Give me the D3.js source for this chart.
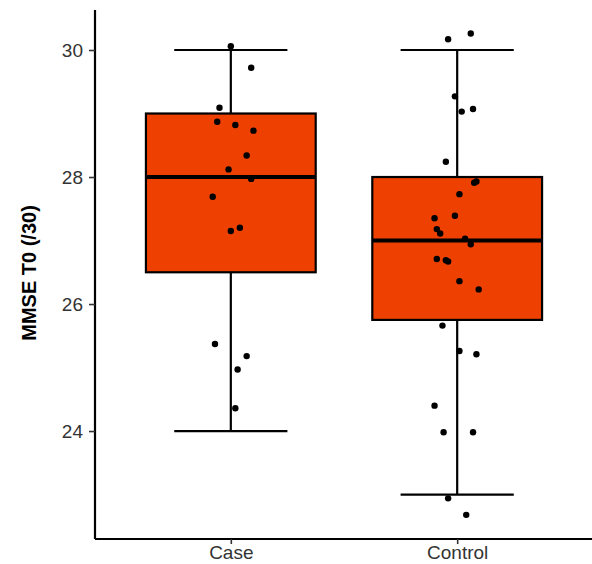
<!DOCTYPE html>
<html>
<head>
<meta charset="utf-8">
<script src="https://cdn.jsdelivr.net/npm/d3@7"></script>
<style>
  html, body { margin: 0; padding: 0; background: #fff; }
  svg { display: block; }
</style>
</head>
<body>
<svg id="chart" width="592" height="564"></svg>
<script>
// ---- data ----
const categories = ["Case", "Control"];
const yTicks = [24, 26, 28, 30];
const yLabel = "MMSE T0 (/30)";

// box statistics: [lowerWhisker, Q1, median, Q3, upperWhisker]
const caseStats = [24, 26.5, 28, 29, 30];
const controlStats = [23, 25.75, 27, 28, 30];

// jittered observations (value, horizontal jitter in category units)
const caseValues = [30.06, 29.72, 29.09, 28.87, 28.82, 28.73, 28.34, 28.12, 27.97, 27.69, 27.15, 27.20, 25.37, 25.18, 24.97, 24.36];
const caseJitter = [0.00, 0.09, -0.05, -0.06, 0.02, 0.10, 0.07, -0.01, 0.09, -0.08, 0.00, 0.04, -0.07, 0.07, 0.03, 0.02];
const controlValues = [30.17, 30.26, 29.27, 29.03, 29.07, 28.24, 27.91, 27.93, 27.73, 27.39, 27.35, 27.18, 27.11, 27.03, 26.94, 26.71, 26.69, 26.67, 26.36, 26.23, 25.66, 25.26, 25.21, 24.40, 23.98, 23.98, 22.94, 22.68];
const controlJitter = [-0.04, 0.06, -0.01, 0.02, 0.07, -0.05, 0.075, 0.085, 0.01, -0.01, -0.10, -0.09, -0.075, 0.035, 0.06, -0.09, -0.05, -0.04, 0.01, 0.095, -0.065, 0.01, 0.085, -0.10, -0.06, 0.07, -0.04, 0.04];

const statsList = [caseStats, controlStats];
const valuesList = [caseValues, controlValues];
const jitterList = [caseJitter, controlJitter];

// ---- layout ----
const svg = d3.select("#chart");
const mLeft = 95, mRight = 593, mTop = 10, mBottom = 539;
const fontFam = "'Liberation Sans', Arial, Helvetica, sans-serif";

const y = d3.scaleLinear().domain([22.30, 30.63]).range([mBottom, mTop]);
const x = d3.scalePoint().domain(categories).range([mLeft, mRight]).padding(0.6);
const step = x.step();
const boxW = 0.75 * step;
const whiskW = 0.5 * step;

const g = svg.append("g");

categories.forEach((c, i) => {
  const s = statsList[i];
  const cx = x(c);
  const bg = g.append("g");
  bg.append("line").attr("x1", cx).attr("x2", cx).attr("y1", y(s[3])).attr("y2", y(s[4]))
    .attr("stroke", "#000").attr("stroke-width", 2.2);
  bg.append("line").attr("x1", cx).attr("x2", cx).attr("y1", y(s[1])).attr("y2", y(s[0]))
    .attr("stroke", "#000").attr("stroke-width", 2.2);
  [s[0], s[4]].forEach(v => {
    bg.append("line").attr("x1", cx - whiskW / 2).attr("x2", cx + whiskW / 2)
      .attr("y1", y(v)).attr("y2", y(v)).attr("stroke", "#000").attr("stroke-width", 2.2);
  });
  bg.append("rect").attr("x", cx - boxW / 2).attr("width", boxW)
    .attr("y", y(s[3])).attr("height", y(s[1]) - y(s[3]))
    .attr("fill", "#EE4000").attr("stroke", "#000").attr("stroke-width", 2.2);
  bg.append("line").attr("x1", cx - boxW / 2).attr("x2", cx + boxW / 2)
    .attr("y1", y(s[2])).attr("y2", y(s[2])).attr("stroke", "#000").attr("stroke-width", 4.2);
});

categories.forEach((c, i) => {
  const pts = valuesList[i].map((v, j) => ({ v, j: jitterList[i][j] }));
  g.append("g").selectAll("circle").data(pts).join("circle")
    .attr("cx", d => x(c) + d.j * step)
    .attr("cy", d => y(d.v))
    .attr("r", 3.2)
    .attr("fill", "#000");
});

const yAxis = svg.append("g").attr("transform", `translate(${mLeft},0)`)
  .call(d3.axisLeft(y).tickValues(yTicks).tickSize(6).tickPadding(6).tickFormat(d3.format("d")));
yAxis.select(".domain").attr("d", `M0,${mTop}V${mBottom}`).attr("stroke", "#000").attr("stroke-width", 2.2);
yAxis.selectAll(".tick line").attr("stroke", "#333").attr("stroke-width", 1.6);
yAxis.selectAll(".tick text").attr("fill", "#333").style("font-family", fontFam).style("font-size", "19px");

const xAxis = svg.append("g").attr("transform", `translate(0,${mBottom})`)
  .call(d3.axisBottom(x).tickSize(5).tickPadding(2));
xAxis.select(".domain").attr("d", `M${mLeft},0H${mRight}`).attr("stroke", "#000").attr("stroke-width", 2.2);
xAxis.selectAll(".tick line").attr("stroke", "#333").attr("stroke-width", 1.6);
xAxis.selectAll(".tick text").attr("fill", "#333").style("font-family", fontFam).style("font-size", "19px");

svg.append("text")
  .attr("transform", `translate(36,273) rotate(-90)`)
  .attr("text-anchor", "middle")
  .style("font-family", fontFam)
  .style("font-size", "20px")
  .style("font-weight", "bold")
  .attr("fill", "#000")
  .text(yLabel);
</script>
</body>
</html>
